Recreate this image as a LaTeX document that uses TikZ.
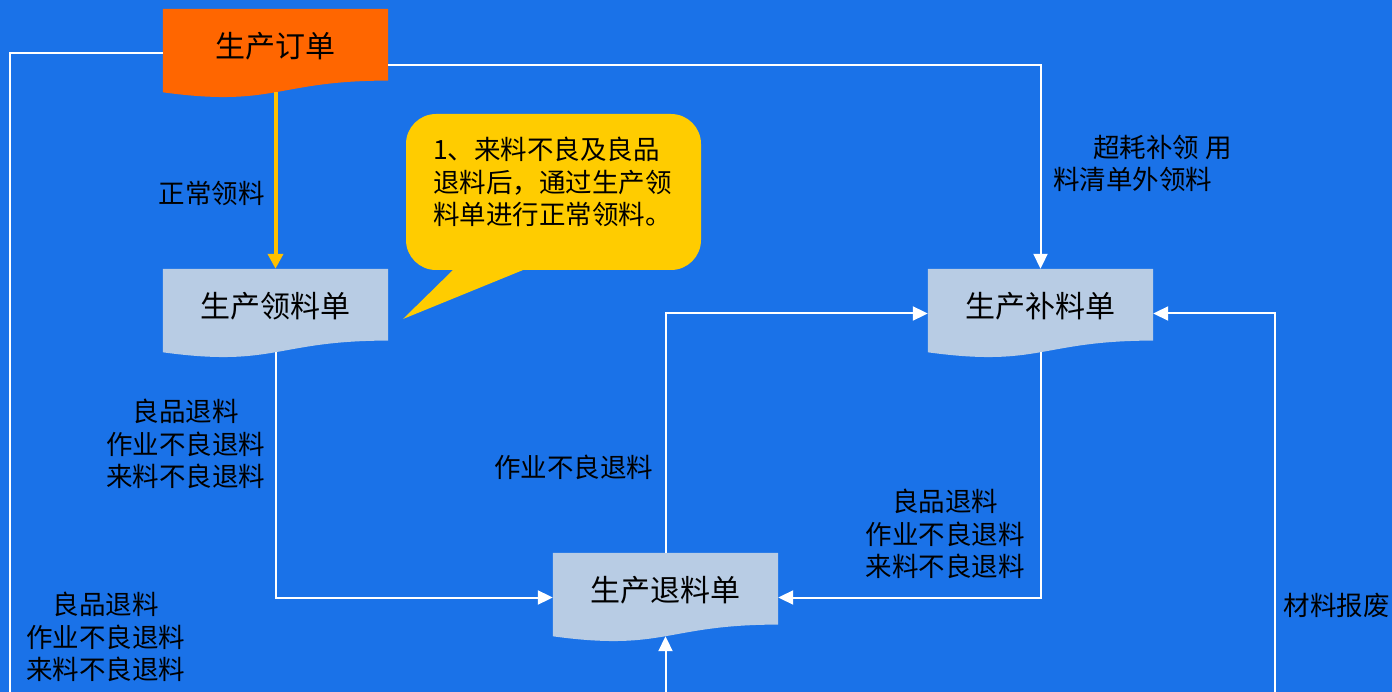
\documentclass[tikz,border=0pt]{standalone}
\usepackage{fontspec}
\newfontfamily\cjk{Noto Sans CJK SC}
\usetikzlibrary{arrows.meta}
\usetikzlibrary{backgrounds}
\definecolor{bgblue}{HTML}{1A72E8}
\definecolor{docblue}{HTML}{B8CCE4}
\definecolor{docorange}{HTML}{FF6600}
\definecolor{noteyellow}{HTML}{FFCC00}
\definecolor{arrowyellow}{HTML}{FFC000}

% wavy-bottom document shape behind a named node
\newcommand\docfill[2]{%
  \fill[#2] (#1.north west) -- (#1.north east) -- ([yshift=17.6pt]#1.south east)
    .. controls ([yshift=17.6pt]#1.south) and ([yshift=-9.5pt]#1.south) .. ([yshift=5.9pt]#1.south west) -- cycle;}

\begin{document}
\begin{tikzpicture}[x=1pt,y=-1pt,>={Triangle[width=14pt,length=15pt]},
    doc/.style={minimum width=225pt,minimum height=89pt,inner sep=0pt,
      text height=24pt,text depth=16pt,font=\cjk\fontsize{30}{36}\selectfont},
    lbl/.style={align=center,inner sep=0pt,font=\cjk\fontsize{26.5}{32.5}\selectfont},
    wline/.style={white,line width=2pt}]
\useasboundingbox (0,0) rectangle (1392,692);

% the four forms
\node[doc] (ding) at (275.5,53.5) {生产订单};
\node[doc] (lingliao) at (275.5,313.5) {生产领料单};
\node[doc] (buliao) at (1040.5,313.5) {生产补料单};
\node[doc] (tuiliao) at (665.5,597.5) {生产退料单};

% loose ends running off the bottom
\coordinate (leftend) at (10,692);
\coordinate (midend) at (665.5,692);
\coordinate (rightend) at (1275,692);

% note
\node[lbl,align=left,anchor=north west] (notetext) at (433,137)
  {1、来料不良及良品\\退料后，通过生产领\\料单进行正常领料。};

\begin{pgfonlayer}{background}
  \fill[bgblue] (0,0) rectangle (1392,692);
  \fill[noteyellow,rounded corners=30pt] (406,114) rectangle (701,270);
  \fill[noteyellow] (455,268) -- (403,319) -- (528,268) -- cycle;
  \docfill{ding}{docorange}
  \docfill{lingliao}{docblue}
  \docfill{buliao}{docblue}
  \docfill{tuiliao}{docblue}
\end{pgfonlayer}

% flows
\draw[wline] (ding.west) -| (leftend);
\draw[wline,->] ([yshift=-11.5pt]ding.east) -| (buliao.north);
\draw[arrowyellow,line width=4pt,-{Triangle[width=15pt,length=15pt]}] ([yshift=6pt]ding.south) -- (lingliao.north);
\draw[wline,->] ([yshift=6pt]lingliao.south) |- (tuiliao.west);
\draw[wline,->] (tuiliao.north) |- (buliao.west);
\draw[wline,->] ([yshift=6pt]buliao.south) |- (tuiliao.east);
\draw[wline,->] (rightend) |- (buliao.east);
\draw[wline,->] (midend) -- ([yshift=6pt]tuiliao.south);

% labels
\node[lbl] (zhengchang) at (211.5,193) {正常领料};
\node[lbl,align=left,anchor=west] (chaohao) at (1053,163.5) {\hspace*{40pt}超耗补领 用\\料清单外领料};
\node[lbl] (tuiA) at (185.5,444) {良品退料\\作业不良退料\\来料不良退料};
\node[lbl] (zuoye) at (573.5,467) {作业不良退料};
\node[lbl] (tuiB) at (945,534) {良品退料\\作业不良退料\\来料不良退料};
\node[lbl] (tuiC) at (106,637) {良品退料\\作业不良退料\\来料不良退料};
\node[lbl] (baofei) at (1336.5,605) {材料报废};
\end{tikzpicture}
\end{document}
